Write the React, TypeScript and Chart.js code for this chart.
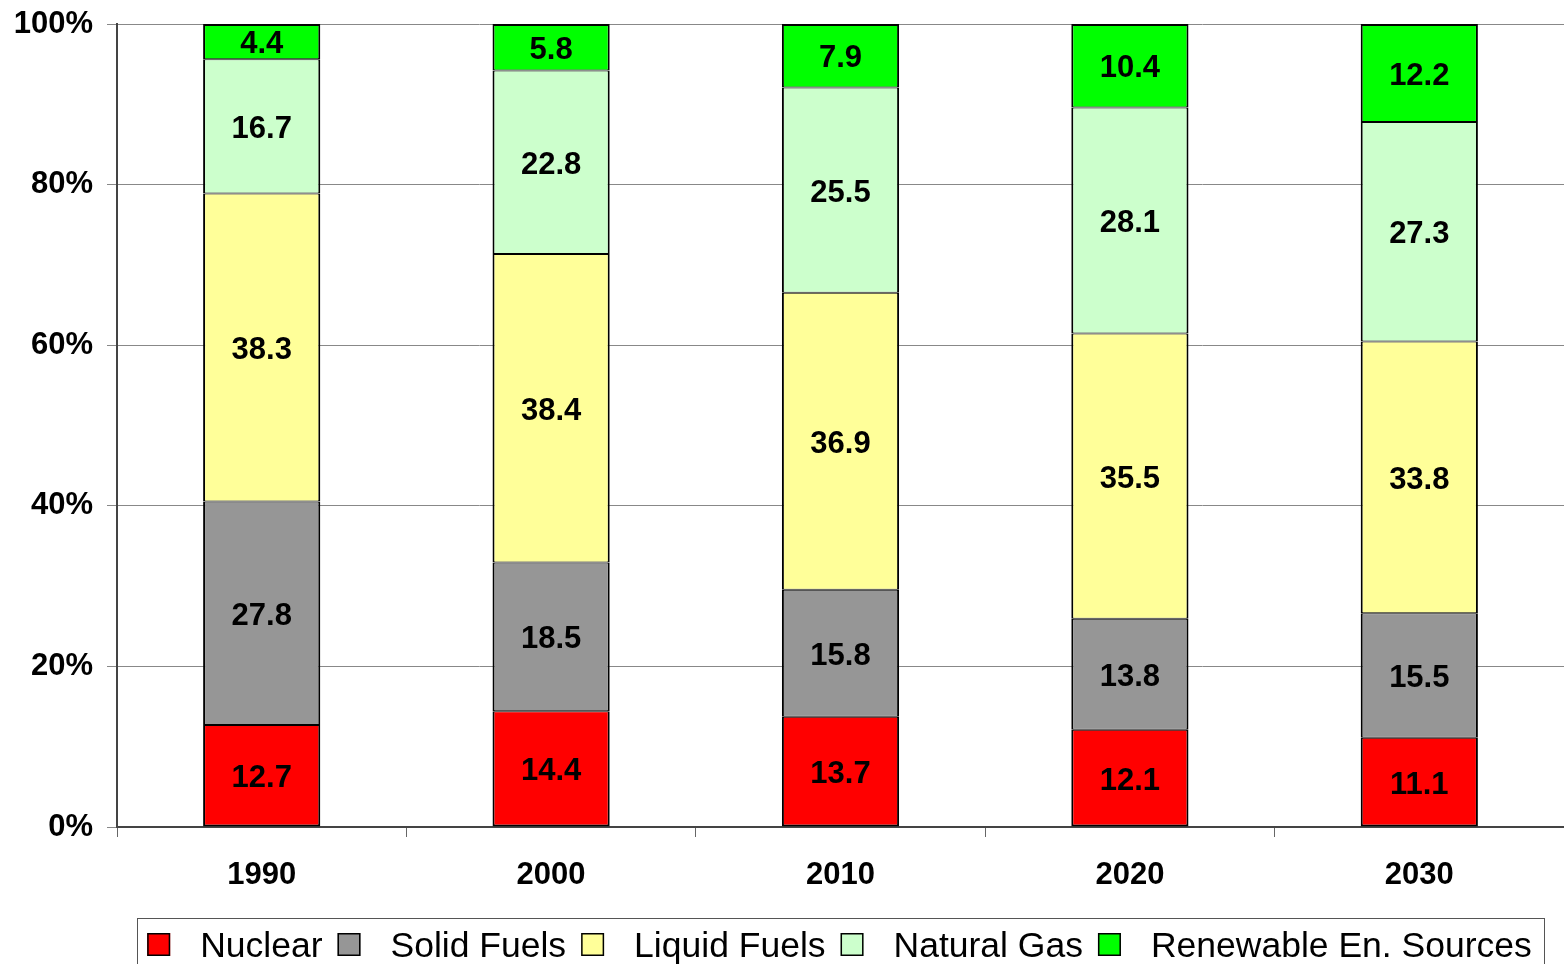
import React, { useEffect, useRef } from "react";
import { Chart, registerables } from "chart.js";

Chart.register(...registerables);

// Energy mix shares by year (percent of total)
const years = ["1990", "2000", "2010", "2020", "2030"];
const nuclear = [12.7, 14.4, 13.7, 12.1, 11.1];
const solidFuels = [27.8, 18.5, 15.8, 13.8, 15.5];
const liquidFuels = [38.3, 38.4, 36.9, 35.5, 33.8];
const naturalGas = [16.7, 22.8, 25.5, 28.1, 27.3];
const renewables = [4.4, 5.8, 7.9, 10.4, 12.2];

const seriesNames = ["Nuclear", "Solid Fuels", "Liquid Fuels", "Natural Gas", "Renewable En. Sources"];
const seriesColors = ["#FF0000", "#969696", "#FFFF99", "#CCFFCC", "#00FF00"];
const seriesValues = [nuclear, solidFuels, liquidFuels, naturalGas, renewables];

const yTicks = [0, 20, 40, 60, 80, 100];

const FONT = "'Liberation Sans', Arial, Helvetica, sans-serif";

// Column totals, used to show each stack as 100%
const totals = years.map((_, i) => seriesValues.reduce((s, arr) => s + arr[i], 0));

const valueLabels = {
  id: "valueLabels",
  afterDatasetsDraw(chart: any) {
    const ctx = chart.ctx;
    ctx.save();
    ctx.font = `bold 31px ${FONT}`;
    ctx.fillStyle = "#000";
    ctx.textAlign = "center";
    ctx.textBaseline = "middle";
    chart.data.datasets.forEach((ds: any, di: number) => {
      const meta = chart.getDatasetMeta(di);
      meta.data.forEach((el: any, i: number) => {
        const raw = ds.rawValues[i];
        const cy = (el.y + el.base) / 2 + 3;
        ctx.fillText(raw.toFixed(1), el.x, cy);
      });
    });
    ctx.restore();
  },
};

const boxLegend = {
  id: "boxLegend",
  afterDraw(chart: any) {
    const ctx = chart.ctx;
    const area = chart.chartArea;
    ctx.save();
    ctx.font = `35.5px ${FONT}`;
    const sq = 23;
    const sqGap = 30;
    const itemGap = 15;
    const widths = seriesNames.map((n) => ctx.measureText(n).width);
    let total = 0;
    widths.forEach((w, i) => {
      total += sq + sqGap + w + (i < widths.length - 1 ? itemGap : 0);
    });
    const cx = (area.left + area.right) / 2 - 1;
    let x = cx - total / 2;
    const boxLeft = Math.round(x - 10) + 0.5;
    const boxRight = Math.round(x + total + 12) + 0.5;
    const boxTop = 918.5;
    ctx.strokeStyle = "#555";
    ctx.lineWidth = 1;
    ctx.strokeRect(boxLeft, boxTop, boxRight - boxLeft, 80);

    const sqTop = 933;
    const baseline = 957;
    seriesNames.forEach((name, i) => {
      ctx.fillStyle = seriesColors[i];
      ctx.fillRect(x, sqTop, sq, sq);
      ctx.strokeStyle = "#000";
      ctx.lineWidth = 1.5;
      ctx.strokeRect(x + 0.75, sqTop + 0.75, sq - 1.5, sq - 1.5);
      ctx.fillStyle = "#000";
      ctx.textAlign = "left";
      ctx.textBaseline = "alphabetic";
      ctx.fillText(name, x + sq + sqGap, baseline);
      x += sq + sqGap + widths[i] + itemGap;
    });
    ctx.restore();
  },
};

export default function App() {
  const canvasRef = useRef<HTMLCanvasElement | null>(null);

  useEffect(() => {
    const canvas = canvasRef.current;
    if (!canvas) return;
    const last = seriesValues.length - 1;
    const chart = new Chart(canvas, {
      type: "bar",
      data: {
        labels: years,
        datasets: seriesValues.map((vals, di) => ({
          label: seriesNames[di],
          data: vals.map((v, i) => (v / totals[i]) * 100),
          rawValues: vals,
          backgroundColor: seriesColors[di],
          borderColor: "#000",
          borderWidth: {
            left: 2,
            right: 2,
            top: di === last ? 2 : 1,
            bottom: di === 0 ? 2 : 1,
          },
          borderSkipped: false,
          categoryPercentage: 1,
          barPercentage: 0.405,
        })) as any,
      },
      options: {
        responsive: false,
        animation: false,
        layout: { padding: { top: 24, right: 0, bottom: 0, left: 0 } },
        plugins: {
          legend: { display: false },
          tooltip: { enabled: false },
        },
        scales: {
          x: {
            stacked: true,
            grid: {
              offset: true,
              drawOnChartArea: false,
              drawTicks: true,
              tickLength: 10,
              color: "#666",
              lineWidth: 1,
            },
            border: { display: true, color: "#444", width: 2 },
            ticks: {
              color: "#000",
              font: { family: FONT, size: 31, weight: "bold" },
              padding: 20,
              maxRotation: 0,
            },
            afterFit(scale: any) {
              scale.height = 137;
            },
          },
          y: {
            stacked: true,
            min: 0,
            max: 100,
            afterBuildTicks(scale: any) {
              scale.ticks = yTicks.map((v) => ({ value: v }));
            },
            grid: {
              color: "#888",
              lineWidth: 1,
              drawTicks: true,
              tickLength: 10,
            },
            border: { display: true, color: "#444", width: 2 },
            ticks: {
              color: "#000",
              font: { family: FONT, size: 31, weight: "bold", lineHeight: 0.6 },
              padding: 14,
              callback: (v: any) => `${v}%`,
            },
            afterFit(scale: any) {
              scale.width = 117;
            },
          },
        },
      },
      plugins: [valueLabels, boxLegend],
    });
    return () => chart.destroy();
  }, []);

  return (
    <div style={{ position: "fixed", left: 0, top: 0, width: 1564, height: 964, background: "#fff", overflow: "hidden" }}>
      <canvas ref={canvasRef} width={1564} height={964} style={{ display: "block" }} />
    </div>
  );
}
